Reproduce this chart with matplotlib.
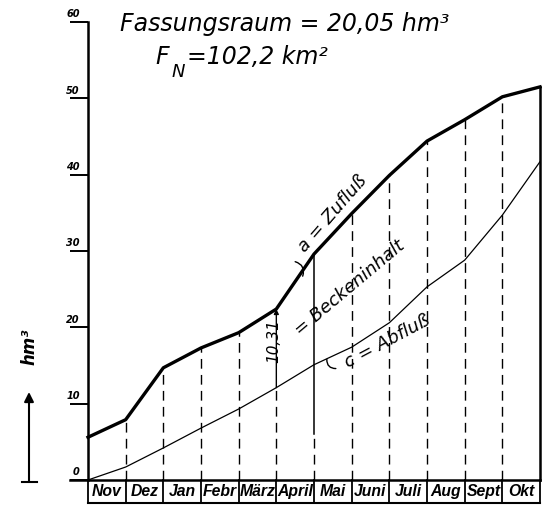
import matplotlib
matplotlib.use("Agg")
import matplotlib.pyplot as plt

# Month columns and cumulative volumes (hm³) at the month boundaries
months = ['Nov', 'Dez', 'Jan', 'Febr', 'März', 'April', 'Mai', 'Juni', 'Juli', 'Aug', 'Sept', 'Okt']
zufluss = [5.6, 7.9, 14.7, 17.3, 19.3, 22.4, 29.6, 34.9, 39.9, 44.4, 47.2, 50.2, 51.5]
abfluss = [0.0, 1.7, 4.2, 6.8, 9.3, 12.1, 15.1, 17.4, 20.6, 25.3, 28.8, 34.7, 41.7]
y_ticks = [0, 10, 20, 30, 40, 50, 60]
beckeninhalt = 10.31
beckeninhalt_month = 5  # boundary where the storage volume is measured

W, H = 547, 516
fig = plt.figure(figsize=(W / 100, H / 100), dpi=100)
ax = fig.add_axes([88 / W, 1 - 480 / H, 452 / W, 458 / H])
ax.set_xlim(0, len(months))
ax.set_ylim(0, 60)
for s in ['top', 'right', 'bottom']:
    ax.spines[s].set_visible(False)
ax.spines['left'].set_linewidth(1.8)
ax.set_xticks([])
ax.set_yticks(y_ticks)
ax.tick_params(axis='y', direction='out', length=13, width=1.4, labelleft=False)

lab_font = dict(family='DejaVu Sans', style='italic', weight='bold')
for v in y_ticks:
    ax.annotate(str(v), xy=(0, v), xytext=(-6, 2), textcoords='offset points',
                ha='right', va='bottom', fontsize=7, **lab_font)

xs = list(range(len(months) + 1))

# vertical month boundaries
dash = (0, (7, 4.5))
for i in xs[1:-1]:
    if i == beckeninhalt_month:
        ax.plot([i, i], [0, abfluss[i]], color='black', lw=1.0, ls=dash)
        ax.annotate('', xy=(i, zufluss[i]), xytext=(i, abfluss[i]),
                    arrowprops=dict(arrowstyle='-|>', color='black', lw=1.0,
                                    mutation_scale=7, shrinkA=0, shrinkB=0))
    elif i == beckeninhalt_month + 1:
        ax.plot([i, i], [0, 6], color='black', lw=1.0, ls=dash)
        ax.plot([i, i], [6, zufluss[i]], color='black', lw=1.1)
    else:
        ax.plot([i, i], [0, zufluss[i]], color='black', lw=1.0, ls=dash)
ax.plot([xs[-1], xs[-1]], [0, zufluss[-1]], color='black', lw=1.8, clip_on=False)

# cumulative curves
ax.plot(xs, zufluss, color='black', lw=2.4, solid_joinstyle='round', clip_on=False)
ax.plot(xs, abfluss, color='black', lw=0.9, clip_on=False)

# month table below the axis
row_bottom = -3.0
ax.plot([-0.48, len(months)], [0, 0], color='black', lw=1.8, clip_on=False)
ax.plot([0, len(months)], [row_bottom, row_bottom], color='black', lw=1.5, clip_on=False)
for i in xs:
    ax.plot([i, i], [0, row_bottom], color='black', lw=1.3, clip_on=False)
for i, m in enumerate(months):
    ax.text(i + 0.5, row_bottom / 2, m, ha='center', va='center', fontsize=11.3,
            family=['Liberation Sans', 'DejaVu Sans'], style='italic',
            weight='bold', clip_on=False)

# curve labels
curve_font = dict(family='DejaVu Sans', style='italic', fontsize=13,
                  rotation_mode='anchor', ha='center', va='center')
ax.text(6.5, 34.9, 'a = Zufluß', rotation=49, **curve_font)
ax.text(6.95, 25.2, '= Beckeninhalt', rotation=40, **curve_font)
ax.text(7.94, 18.1, 'c = Abfluß', rotation=28, **curve_font)
ax.text(beckeninhalt_month - 0.07, 18.2, f'{beckeninhalt:.2f}'.replace('.', ','),
        rotation=90, family='DejaVu Sans', style='italic', fontsize=11,
        rotation_mode='anchor', ha='center', va='center')

# small hooks tying the labels to their curves
ax.annotate('', xy=(5.5, 28.6), xytext=(5.7, 26.7),
            arrowprops=dict(arrowstyle='-', lw=1.0, color='black',
                            connectionstyle='arc3,rad=0.5', shrinkA=0, shrinkB=0))
ax.annotate('', xy=(6.58, 14.6), xytext=(6.34, 15.8),
            arrowprops=dict(arrowstyle='-', lw=1.0, color='black',
                            connectionstyle='arc3,rad=0.5', shrinkA=0, shrinkB=0))

# title lines
title_font = dict(family='DejaVu Sans', style='italic', fontsize=17)
fig.text(120 / W, 1 - 31 / H, 'Fassungsraum = 20,05 hm³', ha='left', va='baseline',
         **title_font)
fig.text(155 / W, 1 - 64 / H, 'F', ha='left', va='baseline', **title_font)
fig.text(172 / W, 1 - 77 / H, 'N', ha='left', va='baseline', family='DejaVu Sans',
         style='italic', fontsize=13)
fig.text(187 / W, 1 - 64 / H, '=102,2 km²', ha='left', va='baseline', **title_font)

# unit arrow on the left
fig.add_artist(plt.Line2D([22 / W, 37 / W], [1 - 482 / H, 1 - 482 / H],
                          color='black', lw=1.5, transform=fig.transFigure))
ax.annotate('', xy=(29 / W, 1 - 392 / H), xytext=(29 / W, 1 - 482 / H),
            xycoords='figure fraction', textcoords='figure fraction',
            arrowprops=dict(arrowstyle='-|>', color='black', lw=1.5,
                            mutation_scale=14, shrinkA=0, shrinkB=0))
fig.text(29 / W, 1 - 347 / H, 'hm³', rotation=90, ha='center', va='center',
         fontsize=12, **lab_font)

fig.savefig('out.png', dpi=100, facecolor='white')
